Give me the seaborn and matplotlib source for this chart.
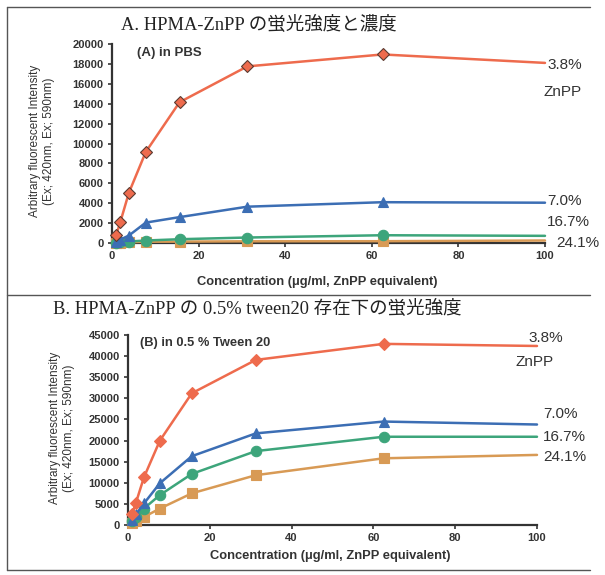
import matplotlib
matplotlib.use("Agg")
import matplotlib.pyplot as plt
import seaborn as sns
import pandas as pd
from matplotlib.lines import Line2D

# ---- data ----
conc = [0.98, 1.95, 3.9, 7.8, 15.6, 31.25, 62.5, 100]
series_labels = ["3.8%", "7.0%", "16.7%", "24.1%"]

a_38 = [800, 2150, 5050, 9150, 14150, 17750, 18950, 18100]
a_70 = [150, 350, 750, 2050, 2600, 3650, 4100, 4050]
a_167 = [40, 80, 150, 250, 380, 550, 780, 720]
a_241 = [20, 40, 80, 130, 140, 170, 180, 250]

b_38 = [2500, 5300, 11300, 20000, 31200, 39100, 42900, 42400]
b_70 = [1200, 2500, 5100, 9900, 16300, 21700, 24500, 23800]
b_167 = [900, 1800, 3900, 7100, 12100, 17500, 20900, 20900]
b_241 = [400, 900, 1900, 3900, 7500, 11800, 15800, 16600]

title_a = "A. HPMA-ZnPP の蛍光強度と濃度"
title_b = "B. HPMA-ZnPP の 0.5% tween20 存在下の蛍光強度"
inset_a = "(A) in PBS"
inset_b = "(B) in 0.5 % Tween 20"
ylabel = "Arbitrary fluorescent Intensity\n(Ex; 420nm, Ex; 590nm)"
xlabel = "Concentration (μg/ml, ZnPP equivalent)"

colors = ["#EE6B4D", "#3C6EB4", "#3DA57B", "#D89A55"]
markers = ["D", "^", "o", "s"]

sns.set_style("white")
plt.rcParams["font.family"] = ["Liberation Sans", "DejaVu Sans"]

W, H = 605, 575
fig = plt.figure(figsize=(W / 100, H / 100), dpi=100)


def fx(px):
    return px / W


def fy(py):
    return 1 - py / H


def make_panel(rect, values, ymax, ystep, edge):
    ax = fig.add_axes(rect)
    for i, (vals, lab) in enumerate(zip(values, series_labels)):
        df = pd.DataFrame({"conc": conc, "val": vals})
        sns.lineplot(data=df, x="conc", y="val", ax=ax, color=colors[i],
                     linewidth=1.8, marker=markers[i],
                     markersize=7.5 if markers[i] != "D" else 6.5,
                     markevery=list(range(len(conc) - 1)),
                     markeredgecolor=edge[i], markeredgewidth=0.8,
                     clip_on=False, zorder=3 + (3 - i) * 0.1)
    ax.set_xlim(0, 100)
    ax.set_ylim(0, ymax)
    ax.set_xticks(range(0, 101, 20))
    ax.set_yticks(range(0, ymax + 1, ystep))
    ax.set_xlabel("")
    ax.set_ylabel("")
    for s in ["top", "right"]:
        ax.spines[s].set_visible(False)
    for s in ["left", "bottom"]:
        ax.spines[s].set_color("#333333")
        ax.spines[s].set_linewidth(1.6)
    ax.tick_params(axis="both", direction="out", length=3, width=1.2,
                   color="#333333", labelsize=8, pad=3, bottom=True, left=True)
    for t in ax.get_xticklabels() + ax.get_yticklabels():
        t.set_fontweight("bold")
        t.set_color("#333333")
    ax.patch.set_alpha(0)
    return ax


# Panel A
axA = make_panel([fx(112), fy(243), fx(545 - 112), (243 - 44) / H],
                 [a_38, a_70, a_167, a_241], 20000, 2000,
                 ["#5a3a30", colors[1], colors[2], colors[3]])
# Panel B
axB = make_panel([fx(128), fy(525), fx(537 - 128), (525 - 335) / H],
                 [b_38, b_70, b_167, b_241], 45000, 5000,
                 colors)

serif_jp = ["Liberation Serif", "Noto Sans CJK JP"]
fig.text(fx(259), fy(24), title_a, ha="center", va="center", fontsize=13.3,
         family=serif_jp, color="#222222")
fig.text(fx(257), fy(308), title_b, ha="center", va="center", fontsize=13.3,
         family=serif_jp, color="#222222")

fig.text(fx(137), fy(53), inset_a, ha="left", va="center", fontsize=9.5,
         fontweight="bold", color="#333333")
fig.text(fx(140), fy(343), inset_b, ha="left", va="center", fontsize=9.3,
         fontweight="bold", color="#333333")

for xc, yc in [(42, 141), (62, 428)]:
    fig.text(fx(xc), fy(yc), ylabel, ha="center", va="center", rotation=90,
             fontsize=8.5, color="#333333", linespacing=1.25)

fig.text(fx(317), fy(282), xlabel, ha="center", va="center", fontsize=9.3,
         fontweight="bold", color="#333333")
fig.text(fx(330), fy(556), xlabel, ha="center", va="center", fontsize=9.3,
         fontweight="bold", color="#333333")

# right-side series labels
lab_kw = dict(ha="left", va="center", fontsize=11, color="#333333")
fig.text(fx(547), fy(65), "3.8%", **lab_kw)
fig.text(fx(543), fy(92), "ZnPP", **lab_kw)
fig.text(fx(547), fy(201), "7.0%", **lab_kw)
fig.text(fx(547), fy(222), "16.7%", **lab_kw)
fig.text(fx(556), fy(243), "24.1%", **lab_kw)

fig.text(fx(528), fy(338), "3.8%", **lab_kw)
fig.text(fx(515), fy(362), "ZnPP", **lab_kw)
fig.text(fx(543), fy(414), "7.0%", **lab_kw)
fig.text(fx(543), fy(437), "16.7%", **lab_kw)
fig.text(fx(543), fy(457), "24.1%", **lab_kw)

# frame lines
frame_kw = dict(color="#555555", linewidth=1.0, transform=fig.transFigure)
fig.add_artist(Line2D([fx(7), fx(590)], [fy(7), fy(7)], **frame_kw))
fig.add_artist(Line2D([fx(7), fx(590)], [fy(295), fy(295)], **frame_kw))
fig.add_artist(Line2D([fx(7), fx(590)], [fy(570), fy(570)], **frame_kw))
fig.add_artist(Line2D([fx(7), fx(7)], [fy(7), fy(570)], **frame_kw))

fig.savefig("out.png", dpi=100)
